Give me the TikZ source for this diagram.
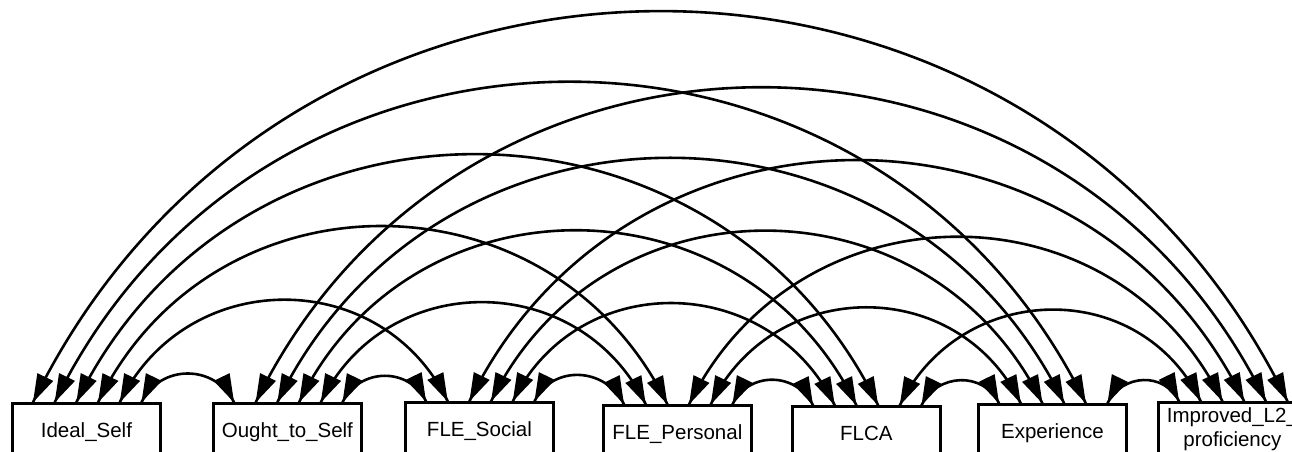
\documentclass[tikz,border=0pt]{standalone}
\usepackage{fontspec}
\setmainfont{Liberation Sans}
\usetikzlibrary{calc}
\begin{document}
\begin{tikzpicture}[x=1pt,y=1pt,
  box/.style={draw, line width=2.8pt, minimum width=148pt, inner sep=0pt, anchor=north west, font=\fontsize{20.5}{24.5}\selectfont},
  one/.style={minimum height=57pt, text height=15pt, text depth=5pt},
  cov/.style={line width=2.6pt},
  head/.style={fill=black}]
\useasboundingbox (0,0) rectangle (1292,451);
\clip (0,0) rectangle (1292,451);
\node[box,one] (n0) at (11,48.7) {Ideal\_Self};
\node[box,one] (n1) at (212,48.7) {Ought\_to\_Self};
\node[box,one] (n2) at (404,49.7) {FLE\_Social};
\node[box,one] (n3) at (602,46.7) {FLE\_Personal};
\node[box,one] (n4) at (791,45.7) {FLCA};
\node[box,one] (n5) at (977,47.7) {Experience};
\node[box,minimum height=53pt,align=center] (n6) at (1157,49.7) {Improved\_L2\_\\proficiency};
\foreach \k in {0,...,6}{
  \foreach \j in {0,...,5}{
    \coordinate (t\k-\j) at ($(n\k.north west)+(22+21.7*\j,0)$);
  }
}
\foreach \a in {0,...,5}{
  \pgfmathtruncatemacro{\bstart}{\a+1}
  \foreach \b in {\bstart,...,6}{
    \pgfmathtruncatemacro{\sa}{\a+6-\b}
    \pgfmathtruncatemacro{\sb}{\b-1-\a}
    \draw[cov] let \p1=(t\a-\sa), \p2=(t\b-\sb), \n1={0.462*(\x2-\x1)} in
      (t\a-\sa) .. controls +(64:\n1) and +(116:\n1) .. (t\b-\sb);
    \fill[head] (t\a-\sa) -- +(46.5:29.5) -- +(81.5:29.5) -- cycle;
    \fill[head] (t\b-\sb) -- +(98.5:29.5) -- +(133.5:29.5) -- cycle;
  }
}
\end{tikzpicture}
\end{document}
